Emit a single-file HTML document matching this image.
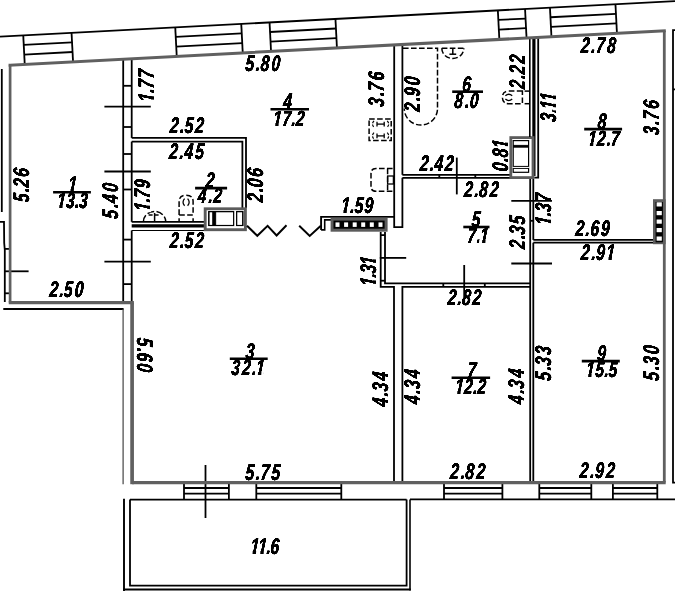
<!DOCTYPE html>
<html><head><meta charset="utf-8"><title>plan</title>
<style>
html,body{margin:0;padding:0;background:#fff;}
svg{display:block;filter:grayscale(1);}
text{font-family:"Liberation Sans",sans-serif;font-weight:bold;font-style:italic;fill:#000;}
</style></head><body>
<svg width="675" height="591" viewBox="0 0 675 591">
<defs><filter id="bold" x="0" y="0" width="675" height="591" filterUnits="userSpaceOnUse"><feGaussianBlur stdDeviation="0.55"/><feComponentTransfer><feFuncA type="linear" slope="3.2" intercept="-0.06"/></feComponentTransfer></filter></defs>
<rect x="0" y="0" width="675" height="591" fill="#fff"/>
<line x1="0.00" y1="36.60" x2="675.00" y2="1.09" stroke="#000" stroke-width="1.8"/>
<line x1="23.25" y1="35.34" x2="24.75" y2="64.44" stroke="#000" stroke-width="1.8"/>
<line x1="71.55" y1="32.80" x2="73.05" y2="61.90" stroke="#000" stroke-width="1.8"/>
<line x1="23.75" y1="44.94" x2="72.05" y2="42.40" stroke="#000" stroke-width="1.8"/>
<line x1="24.25" y1="54.54" x2="72.55" y2="52.00" stroke="#000" stroke-width="1.8"/>
<line x1="175.25" y1="27.34" x2="176.75" y2="56.44" stroke="#000" stroke-width="1.8"/>
<line x1="241.25" y1="23.87" x2="242.75" y2="52.97" stroke="#000" stroke-width="1.8"/>
<line x1="175.75" y1="36.94" x2="241.75" y2="33.47" stroke="#000" stroke-width="1.8"/>
<line x1="176.25" y1="46.54" x2="242.25" y2="43.07" stroke="#000" stroke-width="1.8"/>
<line x1="269.55" y1="22.38" x2="271.05" y2="51.48" stroke="#000" stroke-width="1.8"/>
<line x1="335.45" y1="18.92" x2="336.95" y2="48.02" stroke="#000" stroke-width="1.8"/>
<line x1="270.05" y1="31.98" x2="335.95" y2="28.52" stroke="#000" stroke-width="1.8"/>
<line x1="270.55" y1="41.58" x2="336.45" y2="38.12" stroke="#000" stroke-width="1.8"/>
<line x1="497.85" y1="10.37" x2="499.35" y2="39.47" stroke="#000" stroke-width="1.8"/>
<line x1="525.05" y1="8.94" x2="526.55" y2="38.04" stroke="#000" stroke-width="1.8"/>
<line x1="498.35" y1="19.97" x2="525.55" y2="18.54" stroke="#000" stroke-width="1.8"/>
<line x1="498.85" y1="29.57" x2="526.05" y2="28.14" stroke="#000" stroke-width="1.8"/>
<line x1="549.95" y1="7.63" x2="551.45" y2="36.73" stroke="#000" stroke-width="1.8"/>
<line x1="615.45" y1="4.19" x2="616.95" y2="33.29" stroke="#000" stroke-width="1.8"/>
<line x1="550.45" y1="17.23" x2="615.95" y2="13.79" stroke="#000" stroke-width="1.8"/>
<line x1="550.95" y1="26.83" x2="616.45" y2="23.39" stroke="#000" stroke-width="1.8"/>
<line x1="1.80" y1="69.00" x2="1.80" y2="212.00" stroke="#000" stroke-width="1.8"/>
<path d="M0.00 221.90 L4.00 221.90 L4.20 243.00 L4.80 250.00 L4.80 302.00" stroke="#000" stroke-width="1.8" fill="none"/>
<line x1="4.80" y1="248.90" x2="10.00" y2="248.90" stroke="#000" stroke-width="1.8"/>
<line x1="4.80" y1="293.30" x2="10.00" y2="293.30" stroke="#000" stroke-width="1.8"/>
<line x1="4.80" y1="271.30" x2="28.60" y2="271.30" stroke="#000" stroke-width="1.8"/>
<line x1="3.30" y1="309.00" x2="123.60" y2="309.00" stroke="#000" stroke-width="2.1"/>
<line x1="123.10" y1="309.00" x2="123.10" y2="484.30" stroke="#444" stroke-width="1.2"/>
<path d="M675.00 30.20 L673.00 30.20 L673.00 482.60 L675.00 482.60" stroke="#000" stroke-width="1.8" fill="none"/>
<line x1="673.00" y1="89.40" x2="675.00" y2="89.40" stroke="#000" stroke-width="1.8"/>
<line x1="130.00" y1="499.60" x2="406.60" y2="499.60" stroke="#000" stroke-width="1.8"/>
<line x1="410.00" y1="499.40" x2="675.00" y2="499.40" stroke="#000" stroke-width="1.8"/>
<line x1="184.00" y1="482.40" x2="184.00" y2="499.40" stroke="#000" stroke-width="1.8"/>
<line x1="228.90" y1="482.40" x2="228.90" y2="499.40" stroke="#000" stroke-width="1.8"/>
<line x1="184.00" y1="488.00" x2="228.90" y2="488.00" stroke="#000" stroke-width="1.8"/>
<line x1="184.00" y1="493.60" x2="228.90" y2="493.60" stroke="#000" stroke-width="1.8"/>
<line x1="256.30" y1="482.40" x2="256.30" y2="499.40" stroke="#000" stroke-width="1.8"/>
<line x1="341.30" y1="482.40" x2="341.30" y2="499.40" stroke="#000" stroke-width="1.8"/>
<line x1="256.30" y1="488.00" x2="341.30" y2="488.00" stroke="#000" stroke-width="1.8"/>
<line x1="256.30" y1="493.60" x2="341.30" y2="493.60" stroke="#000" stroke-width="1.8"/>
<line x1="444.00" y1="482.40" x2="444.00" y2="499.40" stroke="#000" stroke-width="1.8"/>
<line x1="502.40" y1="482.40" x2="502.40" y2="499.40" stroke="#000" stroke-width="1.8"/>
<line x1="444.00" y1="488.00" x2="502.40" y2="488.00" stroke="#000" stroke-width="1.8"/>
<line x1="444.00" y1="493.60" x2="502.40" y2="493.60" stroke="#000" stroke-width="1.8"/>
<line x1="539.30" y1="482.40" x2="539.30" y2="499.40" stroke="#000" stroke-width="1.8"/>
<line x1="591.30" y1="482.40" x2="591.30" y2="499.40" stroke="#000" stroke-width="1.8"/>
<line x1="539.30" y1="488.00" x2="591.30" y2="488.00" stroke="#000" stroke-width="1.8"/>
<line x1="539.30" y1="493.60" x2="591.30" y2="493.60" stroke="#000" stroke-width="1.8"/>
<line x1="612.90" y1="482.40" x2="612.90" y2="499.40" stroke="#000" stroke-width="1.8"/>
<line x1="657.30" y1="482.40" x2="657.30" y2="499.40" stroke="#000" stroke-width="1.8"/>
<line x1="612.90" y1="488.00" x2="657.30" y2="488.00" stroke="#000" stroke-width="1.8"/>
<line x1="612.90" y1="493.60" x2="657.30" y2="493.60" stroke="#000" stroke-width="1.8"/>
<line x1="205.50" y1="465.00" x2="205.50" y2="518.00" stroke="#000" stroke-width="1.8"/>
<line x1="124.00" y1="498.70" x2="124.00" y2="591.00" stroke="#000" stroke-width="1.9"/>
<line x1="123.00" y1="589.60" x2="410.80" y2="589.60" stroke="#000" stroke-width="2.0"/>
<line x1="410.00" y1="499.40" x2="410.00" y2="590.60" stroke="#000" stroke-width="1.6"/>
<path d="M130.00 499.60 L130.00 585.70 L406.60 585.70 L406.60 499.40" stroke="#000" stroke-width="1.8" fill="none"/>
<line x1="123.20" y1="59.22" x2="123.20" y2="301.00" stroke="#000" stroke-width="1.8"/>
<line x1="131.70" y1="58.77" x2="131.70" y2="137.90" stroke="#000" stroke-width="1.8"/>
<line x1="131.70" y1="141.60" x2="131.70" y2="221.80" stroke="#000" stroke-width="1.8"/>
<line x1="131.70" y1="230.50" x2="131.70" y2="301.00" stroke="#000" stroke-width="1.8"/>
<line x1="123.20" y1="85.80" x2="131.70" y2="85.80" stroke="#000" stroke-width="1.8"/>
<line x1="123.20" y1="127.00" x2="131.70" y2="127.00" stroke="#000" stroke-width="1.8"/>
<line x1="123.20" y1="154.00" x2="131.70" y2="154.00" stroke="#000" stroke-width="1.8"/>
<line x1="123.20" y1="189.50" x2="131.70" y2="189.50" stroke="#000" stroke-width="1.8"/>
<line x1="123.20" y1="239.60" x2="131.70" y2="239.60" stroke="#000" stroke-width="1.8"/>
<line x1="123.20" y1="284.10" x2="131.70" y2="284.10" stroke="#000" stroke-width="1.8"/>
<line x1="104.40" y1="106.70" x2="150.80" y2="106.70" stroke="#000" stroke-width="1.8"/>
<line x1="104.40" y1="171.50" x2="150.80" y2="171.50" stroke="#000" stroke-width="1.8"/>
<line x1="104.40" y1="261.70" x2="150.80" y2="261.70" stroke="#000" stroke-width="1.8"/>
<path d="M131.70 137.90 L246.00 137.90 L246.00 208.00" stroke="#000" stroke-width="1.8" fill="none"/>
<path d="M131.70 141.60 L242.40 141.60 L242.40 208.00" stroke="#000" stroke-width="1.8" fill="none"/>
<line x1="131.70" y1="221.80" x2="204.60" y2="221.80" stroke="#000" stroke-width="1.8"/>
<line x1="131.70" y1="225.90" x2="204.60" y2="225.90" stroke="#000" stroke-width="3.4"/>
<line x1="131.70" y1="230.50" x2="204.60" y2="230.50" stroke="#000" stroke-width="1.2"/>
<rect x="205.20" y="208.80" width="40.20" height="20.90" stroke="#5c5c5c" stroke-width="2.9" fill="none"/>
<rect x="208.80" y="211.60" width="34.00" height="13.90" stroke="#000" stroke-width="1.1" fill="none"/>
<rect x="212.40" y="211.60" width="3.50" height="13.90" stroke="#000" stroke-width="0.5" fill="#000"/>
<line x1="233.70" y1="211.60" x2="233.70" y2="225.50" stroke="#000" stroke-width="1.1"/>
<line x1="236.60" y1="211.60" x2="236.60" y2="225.50" stroke="#000" stroke-width="1.1"/>
<rect x="233.90" y="210.60" width="2.50" height="15.90" stroke="none" stroke-width="0" fill="#fff"/>
<rect x="208.80" y="211.60" width="24.90" height="13.90" stroke="#000" stroke-width="1.1" fill="none"/>
<rect x="236.60" y="211.60" width="6.20" height="13.90" stroke="#000" stroke-width="1.1" fill="none"/>
<path d="M247.00 225.70 L257.30 235.80 L267.60 225.90 L276.60 235.50 L286.50 225.30" stroke="#000" stroke-width="2.0" fill="none"/>
<path d="M299.20 225.80 L309.70 235.90 L320.80 225.80" stroke="#000" stroke-width="2.0" fill="none"/>
<path d="M321.10 229.90 L321.10 216.90 L394.20 216.90" stroke="#000" stroke-width="1.9" fill="none"/>
<path d="M321.10 229.90 L324.70 229.90 L324.70 219.90 L331.00 219.90" stroke="#000" stroke-width="1.6" fill="none"/>
<rect x="330.60" y="217.80" width="57.00" height="13.90" stroke="none" stroke-width="0" fill="#5c5c5c"/>
<rect x="333.50" y="220.60" width="51.10" height="8.10" stroke="none" stroke-width="0" fill="#000"/>
<rect x="335.50" y="222.40" width="4.00" height="4.50" stroke="none" stroke-width="0" fill="#fff"/>
<rect x="344.10" y="222.40" width="4.00" height="4.50" stroke="none" stroke-width="0" fill="#fff"/>
<rect x="352.70" y="222.40" width="4.00" height="4.50" stroke="none" stroke-width="0" fill="#fff"/>
<rect x="361.20" y="222.40" width="4.00" height="4.50" stroke="none" stroke-width="0" fill="#fff"/>
<rect x="369.80" y="222.40" width="4.00" height="4.50" stroke="none" stroke-width="0" fill="#fff"/>
<rect x="378.50" y="222.40" width="4.00" height="4.50" stroke="none" stroke-width="0" fill="#fff"/>
<path d="M394.20 44.97 L394.20 227.20 L402.40 227.20 L402.40 177.80" stroke="#000" stroke-width="1.8" fill="none"/>
<line x1="402.40" y1="174.80" x2="402.40" y2="44.53" stroke="#000" stroke-width="1.8"/>
<line x1="402.40" y1="174.80" x2="510.30" y2="174.80" stroke="#000" stroke-width="1.8"/>
<line x1="402.40" y1="177.80" x2="510.30" y2="177.80" stroke="#000" stroke-width="1.8"/>
<line x1="439.30" y1="174.80" x2="439.30" y2="177.80" stroke="#000" stroke-width="1.8"/>
<line x1="475.30" y1="174.80" x2="475.30" y2="177.80" stroke="#000" stroke-width="1.8"/>
<line x1="533.90" y1="37.62" x2="533.90" y2="176.00" stroke="#000" stroke-width="3.2"/>
<rect x="510.80" y="137.60" width="22.20" height="40.00" stroke="#5c5c5c" stroke-width="2.8" fill="none"/>
<rect x="513.20" y="140.60" width="15.40" height="31.70" stroke="#000" stroke-width="1.2" fill="none"/>
<rect x="513.20" y="145.10" width="15.40" height="2.40" stroke="#000" stroke-width="0.4" fill="#000"/>
<line x1="513.20" y1="166.50" x2="528.60" y2="166.50" stroke="#000" stroke-width="1.2"/>
<line x1="513.20" y1="168.30" x2="528.60" y2="168.30" stroke="#000" stroke-width="1.2"/>
<rect x="512.40" y="166.90" width="17.00" height="1.00" stroke="none" stroke-width="0" fill="#fff"/>
<line x1="529.80" y1="37.83" x2="529.80" y2="137.00" stroke="#000" stroke-width="1.6"/>
<path d="M538.20 37.39 L538.20 177.70 L534.40 177.70" stroke="#000" stroke-width="1.8" fill="none"/>
<line x1="530.20" y1="179.00" x2="530.20" y2="482.40" stroke="#000" stroke-width="1.8"/>
<line x1="530.20" y1="220.80" x2="533.30" y2="220.80" stroke="#000" stroke-width="1.8"/>
<line x1="533.30" y1="179.00" x2="533.30" y2="239.90" stroke="#000" stroke-width="1.8"/>
<line x1="533.30" y1="242.70" x2="533.30" y2="482.40" stroke="#000" stroke-width="1.8"/>
<line x1="533.30" y1="239.90" x2="653.00" y2="239.90" stroke="#000" stroke-width="1.8"/>
<line x1="533.30" y1="242.70" x2="653.00" y2="242.70" stroke="#000" stroke-width="1.8"/>
<line x1="511.30" y1="200.80" x2="552.00" y2="200.80" stroke="#000" stroke-width="1.8"/>
<line x1="511.30" y1="263.50" x2="552.00" y2="263.50" stroke="#000" stroke-width="1.8"/>
<rect x="653.00" y="199.20" width="12.60" height="45.00" stroke="none" stroke-width="0" fill="#5c5c5c"/>
<rect x="655.60" y="202.00" width="8.80" height="40.30" stroke="none" stroke-width="0" fill="#000"/>
<rect x="656.60" y="202.30" width="5.20" height="4.20" stroke="none" stroke-width="0" fill="#fff"/>
<rect x="656.60" y="211.00" width="5.20" height="4.20" stroke="none" stroke-width="0" fill="#fff"/>
<rect x="656.60" y="219.50" width="5.20" height="4.20" stroke="none" stroke-width="0" fill="#fff"/>
<rect x="656.60" y="228.00" width="5.20" height="4.20" stroke="none" stroke-width="0" fill="#fff"/>
<rect x="656.60" y="236.50" width="5.20" height="4.20" stroke="none" stroke-width="0" fill="#fff"/>
<path d="M380.70 232.00 L380.70 286.90 L394.00 286.90 L394.00 482.40" stroke="#000" stroke-width="1.8" fill="none"/>
<path d="M385.00 232.00 L385.00 283.30 L530.20 283.30" stroke="#000" stroke-width="1.8" fill="none"/>
<line x1="380.70" y1="235.10" x2="385.00" y2="235.10" stroke="#000" stroke-width="1.8"/>
<line x1="380.70" y1="280.70" x2="385.00" y2="280.70" stroke="#000" stroke-width="1.8"/>
<path d="M402.40 482.40 L402.40 286.90 L530.20 286.90" stroke="#000" stroke-width="1.8" fill="none"/>
<line x1="443.30" y1="283.30" x2="443.30" y2="286.90" stroke="#000" stroke-width="1.8"/>
<line x1="484.80" y1="283.30" x2="484.80" y2="286.90" stroke="#000" stroke-width="1.8"/>
<line x1="456.80" y1="157.60" x2="456.80" y2="194.40" stroke="#000" stroke-width="1.8"/>
<line x1="464.20" y1="265.00" x2="464.20" y2="305.00" stroke="#000" stroke-width="1.8"/>
<line x1="379.80" y1="257.90" x2="406.20" y2="257.90" stroke="#000" stroke-width="1.8"/>
<path d="M10.10 65.17 L664.30 30.76" stroke="#606060" stroke-width="3.0" fill="none" stroke-linecap="square"/>
<line x1="10.10" y1="65.17" x2="10.10" y2="302.60" stroke="#606060" stroke-width="2.7"/>
<line x1="664.30" y1="30.76" x2="664.30" y2="482.60" stroke="#606060" stroke-width="2.8"/>
<line x1="8.75" y1="302.60" x2="133.90" y2="302.60" stroke="#606060" stroke-width="3.3"/>
<line x1="132.10" y1="302.60" x2="132.10" y2="484.20" stroke="#606060" stroke-width="3.7"/>
<line x1="132.10" y1="482.60" x2="665.70" y2="482.60" stroke="#606060" stroke-width="3.1"/>
<path d="M179.1 214.9 V201.5 Q179.1 195.3 186.1 195.3 Q193.1 195.3 193.1 201.5 V214.9 Z" stroke="#000" stroke-width="1.5" fill="none" stroke-dasharray="5.6 2.4"/>
<line x1="179.10" y1="218.20" x2="179.10" y2="221.80" stroke="#000" stroke-width="1.5"/>
<line x1="193.10" y1="218.20" x2="193.10" y2="221.80" stroke="#000" stroke-width="1.5"/>
<path d="M184.6 198.6 Q181.4 202.2 184.6 205.8 M187.6 198.6 Q190.8 202.2 187.6 205.8" stroke="#000" stroke-width="1.3" fill="none"/>
<path d="M143.4 221.8 A11.2 10.4 0 0 1 165.8 221.8" stroke="#000" stroke-width="1.5" fill="none" stroke-dasharray="7 2.4"/>
<line x1="154.60" y1="213.00" x2="154.60" y2="221.80" stroke="#000" stroke-width="1.5"/>
<line x1="148.60" y1="214.90" x2="160.60" y2="214.90" stroke="#000" stroke-width="1.5" stroke-dasharray="4 2"/>
<rect x="369.10" y="119.10" width="22.10" height="21.40" stroke="#000" stroke-width="1.5" fill="none" stroke-dasharray="5.6 2.4"/>
<line x1="377.00" y1="124.10" x2="384.20" y2="124.10" stroke="#000" stroke-width="1.3"/>
<line x1="377.00" y1="121.70" x2="377.00" y2="126.50" stroke="#000" stroke-width="1.3"/>
<line x1="384.20" y1="121.70" x2="384.20" y2="126.50" stroke="#000" stroke-width="1.3"/>
<path d="M374 120.89999999999999 Q371 124.1 374 127.3 M387.2 120.89999999999999 Q390.2 124.1 387.2 127.3" stroke="#000" stroke-width="1.2" fill="none" stroke-dasharray="2.6 1.4"/>
<line x1="377.00" y1="135.90" x2="384.20" y2="135.90" stroke="#000" stroke-width="1.3"/>
<line x1="377.00" y1="133.50" x2="377.00" y2="138.30" stroke="#000" stroke-width="1.3"/>
<line x1="384.20" y1="133.50" x2="384.20" y2="138.30" stroke="#000" stroke-width="1.3"/>
<path d="M374 132.70000000000002 Q371 135.9 374 139.1 M387.2 132.70000000000002 Q390.2 135.9 387.2 139.1" stroke="#000" stroke-width="1.2" fill="none" stroke-dasharray="2.6 1.4"/>
<path d="M392.6 168.5 H376 Q371 168.5 371 173.5 V186.3 Q371 191.3 376 191.3 H392.6" stroke="#000" stroke-width="1.5" fill="none" stroke-dasharray="5.6 2.4"/>
<rect x="387.60" y="176.00" width="5.80" height="8.00" stroke="#000" stroke-width="1.3" fill="none"/>
<line x1="387.60" y1="168.60" x2="387.60" y2="191.40" stroke="#000" stroke-width="1.5" stroke-dasharray="5.6 2.4"/>
<path d="M403 48.3 H437.5 V108.6 A16.6 16.5 0 0 1 404.3 108.6" stroke="#000" stroke-width="1.5" fill="none" stroke-dasharray="5.6 2.4"/>
<path d="M441.8 48.3 A11 10.2 0 0 0 463.8 48.3" stroke="#000" stroke-width="1.5" fill="none" stroke-dasharray="5.6 2.4"/>
<line x1="452.80" y1="48.30" x2="452.80" y2="54.20" stroke="#000" stroke-width="1.5"/>
<line x1="449.40" y1="54.20" x2="456.20" y2="54.20" stroke="#000" stroke-width="1.5"/>
<line x1="441.80" y1="48.30" x2="463.80" y2="48.30" stroke="#000" stroke-width="1.5" stroke-dasharray="5.6 2.4"/>
<path d="M522.4 91.1 H508.6 Q502.4 91.1 502.4 97.4 Q502.4 103.7 508.6 103.7 H522.4 Z" stroke="#000" stroke-width="1.5" fill="none" stroke-dasharray="5.6 2.4"/>
<line x1="524.60" y1="91.10" x2="529.00" y2="91.10" stroke="#000" stroke-width="1.5"/>
<line x1="524.60" y1="103.70" x2="529.00" y2="103.70" stroke="#000" stroke-width="1.5"/>
<path d="M505.4 95.8 Q508.8 92.6 512.2 95.8 M505.4 99 Q508.8 102.2 512.2 99" stroke="#000" stroke-width="1.3" fill="none"/>
<g filter="url(#bold)">
<text transform="translate(245.7 71.4) skewX(-4) scale(0.7 1)" font-size="22.5" x="-1.00 14.06 20.63 36.12">5.80</text>
<text transform="translate(170.1 132.9) skewX(-4) scale(0.7 1)" font-size="22.5" x="-1.00 13.71 20.14 35.29">2.52</text>
<text transform="translate(169.5 159.4) skewX(-4) scale(0.7 1)" font-size="22.5" x="-1.00 14.10 20.69 36.22">2.45</text>
<text transform="translate(170.1 248.4) skewX(-4) scale(0.7 1)" font-size="22.5" x="-1.00 13.71 20.14 35.29">2.52</text>
<text transform="translate(49.6 297.0) skewX(-4) scale(0.7 1)" font-size="22.5" x="-1.00 13.63 20.02 35.08">2.50</text>
<text transform="translate(342.6 212.8) skewX(-4) scale(0.7 1)" font-size="22.5" x="-2.57 10.50 16.50 30.56">1.59</text>
<text transform="translate(420.1 170.6) skewX(-4) scale(0.7 1)" font-size="22.5" x="-1.00 13.58 19.96 34.97">2.42</text>
<text transform="translate(464.5 196.8) skewX(-4) scale(0.7 1)" font-size="22.5" x="-1.00 13.93 20.44 35.80">2.82</text>
<text transform="translate(448.0 304.5) skewX(-4) scale(0.7 1)" font-size="22.5" x="-1.00 13.28 19.54 34.25">2.82</text>
<text transform="translate(450.5 479.4) skewX(-4) scale(0.7 1)" font-size="22.5" x="-1.00 14.19 20.81 36.43">2.82</text>
<text transform="translate(581.1 53.1) skewX(-4) scale(0.7 1)" font-size="22.5" x="-1.00 14.23 20.87 36.53">2.78</text>
<text transform="translate(575.7 235.6) skewX(-4) scale(0.7 1)" font-size="22.5" x="-1.00 13.80 20.26 35.49">2.69</text>
<text transform="translate(581.1 260.2) skewX(-4) scale(0.7 1)" font-size="22.5" x="-1.00 14.39 21.09 35.34">2.91</text>
<text transform="translate(580.0 477.6) skewX(-4) scale(0.7 1)" font-size="22.5" x="-1.00 14.36 21.05 36.84">2.92</text>
<text transform="translate(245.7 480.1) skewX(-4) scale(0.7 1)" font-size="22.5" x="-1.00 14.06 20.63 36.12">5.75</text>
<text transform="translate(251.8 553.8) skewX(-4) scale(0.7 1)" font-size="22.5" x="-2.57 8.43 20.57 26.13">11.6</text>
<text transform="translate(154.3 100.5) rotate(-90) skewX(-4) scale(0.7 1)" font-size="22.5" x="-2.57 10.70 16.78 31.07">1.77</text>
<text transform="translate(29.0 201.7) rotate(-90) skewX(-4) scale(0.7 1)" font-size="22.5" x="-1.00 13.63 20.02 35.08">5.26</text>
<text transform="translate(117.6 218.2) rotate(-90) skewX(-4) scale(0.7 1)" font-size="22.5" x="-1.00 14.41 21.11 36.94">5.40</text>
<text transform="translate(150.0 209.8) rotate(-90) skewX(-4) scale(0.7 1)" font-size="22.5" x="-2.57 10.35 16.28 30.15">1.79</text>
<text transform="translate(262.6 201.7) rotate(-90) skewX(-4) scale(0.7 1)" font-size="22.5" x="-1.00 13.63 20.02 35.08">2.06</text>
<text transform="translate(384.4 106.2) rotate(-90) skewX(-4) scale(0.7 1)" font-size="22.5" x="-1.00 14.19 20.81 36.43">3.76</text>
<text transform="translate(420.0 111.3) rotate(-90) skewX(-4) scale(0.7 1)" font-size="22.5" x="-1.00 14.19 20.81 36.43">2.90</text>
<text transform="translate(524.6 88.5) rotate(-90) skewX(-4) scale(0.7 1)" font-size="22.5" x="-1.00 13.63 20.02 35.08">2.22</text>
<text transform="translate(556.0 121.5) rotate(-90) skewX(-4) scale(0.7 1)" font-size="22.5" x="-1.00 12.33 16.64 28.33">3.11</text>
<text transform="translate(659.0 134.9) rotate(-90) skewX(-4) scale(0.7 1)" font-size="22.5" x="-1.00 14.28 20.93 36.63">3.76</text>
<text transform="translate(508.1 171.0) rotate(-90) skewX(-4) scale(0.7 1)" font-size="22.5" x="-1.00 12.94 19.07 31.87">0.81</text>
<text transform="translate(550.5 223.8) rotate(-90) skewX(-4) scale(0.7 1)" font-size="22.5" x="-2.57 10.43 16.39 30.35">1.37</text>
<text transform="translate(525.3 248.6) rotate(-90) skewX(-4) scale(0.7 1)" font-size="22.5" x="-1.00 13.28 19.54 34.25">2.35</text>
<text transform="translate(375.6 284.7) rotate(-90) skewX(-4) scale(0.7 1)" font-size="22.5" x="-2.57 9.93 15.66 27.47">1.31</text>
<text transform="translate(387.7 406.4) rotate(-90) skewX(-4) scale(0.7 1)" font-size="22.5" x="-1.00 14.19 20.81 36.43">4.34</text>
<text transform="translate(420.0 403.9) rotate(-90) skewX(-4) scale(0.7 1)" font-size="22.5" x="-1.00 14.19 20.81 36.43">4.34</text>
<text transform="translate(524.2 403.9) rotate(-90) skewX(-4) scale(0.7 1)" font-size="22.5" x="-1.00 14.41 21.11 36.94">4.34</text>
<text transform="translate(550.8 380.2) rotate(-90) skewX(-4) scale(0.7 1)" font-size="22.5" x="-1.00 13.84 20.32 35.60">5.33</text>
<text transform="translate(659.0 380.2) rotate(-90) skewX(-4) scale(0.7 1)" font-size="22.5" x="-1.00 14.36 21.05 36.84">5.30</text>
<text transform="translate(137.0 338.0) rotate(90) skewX(-4) scale(0.7 1)" font-size="22.5" x="-1.00 13.76 20.20 35.39">5.60</text>
<text transform="translate(69.6 192.2) skewX(-4) scale(0.7 1)" font-size="22.5" x="-2.57">1</text>
<text transform="translate(58.5 208.0) skewX(-4) scale(0.7 1)" font-size="22" x="-2.57 10.32 23.22 28.93">13.3</text>
<text transform="translate(205.9 188.1) skewX(-4) scale(0.7 1)" font-size="22.5" x="-1.00">2</text>
<text transform="translate(198.2 203.3) skewX(-4) scale(0.7 1)" font-size="22" x="-1.00 14.52 21.27">4.2</text>
<text transform="translate(246.0 358.8) skewX(-4) scale(0.7 1)" font-size="22.5" x="-1.00">3</text>
<text transform="translate(231.8 375.1) skewX(-4) scale(0.7 1)" font-size="22" x="-1.00 14.14 28.86 33.71">32.1</text>
<text transform="translate(283.4 109.3) skewX(-4) scale(0.7 1)" font-size="22.5" x="-1.00">4</text>
<text transform="translate(274.5 126.0) skewX(-4) scale(0.7 1)" font-size="22" x="-2.57 10.66 23.97 29.84">17.2</text>
<text transform="translate(472.0 227.0) skewX(-4) scale(0.7 1)" font-size="22.5" x="-1.00">5</text>
<text transform="translate(467.7 243.2) skewX(-4) scale(0.7 1)" font-size="22" x="-1.00 12.52 16.90">7.1</text>
<text transform="translate(462.5 91.7) skewX(-4) scale(0.7 1)" font-size="22.5" x="-1.00">6</text>
<text transform="translate(454.7 107.7) skewX(-4) scale(0.7 1)" font-size="22" x="-1.00 14.52 21.27">8.0</text>
<text transform="translate(467.8 377.7) skewX(-4) scale(0.7 1)" font-size="22.5" x="-1.00">7</text>
<text transform="translate(456.5 393.9) skewX(-4) scale(0.7 1)" font-size="22" x="-2.57 10.47 23.55 29.34">12.2</text>
<text transform="translate(598.0 129.1) skewX(-4) scale(0.7 1)" font-size="22.5" x="-1.00">8</text>
<text transform="translate(589.2 145.7) skewX(-4) scale(0.7 1)" font-size="22" x="-2.57 10.93 24.56 30.56">12.7</text>
<text transform="translate(597.5 361.1) skewX(-4) scale(0.7 1)" font-size="22.5" x="-1.00">9</text>
<text transform="translate(587.4 377.2) skewX(-4) scale(0.7 1)" font-size="22" x="-2.57 10.70 24.06 29.95">15.5</text>
</g>
<path transform="translate(342.6 212.8) skewX(-4) scale(0.7 1)" d="M-3.37 -3.30 H1.03 V0.9 H-3.37 Z M5.93 -3.30 H9.63 V0.9 H5.93 Z" fill="#fff"/>
<path transform="translate(581.1 260.2) skewX(-4) scale(0.7 1)" d="M34.54 -3.30 H38.94 V0.9 H34.54 Z M43.84 -3.30 H47.54 V0.9 H43.84 Z" fill="#fff"/>
<path transform="translate(251.8 553.8) skewX(-4) scale(0.7 1)" d="M-3.37 -3.30 H1.03 V0.9 H-3.37 Z M5.93 -3.30 H9.63 V0.9 H5.93 Z" fill="#fff"/>
<path transform="translate(251.8 553.8) skewX(-4) scale(0.7 1)" d="M7.63 -3.30 H12.03 V0.9 H7.63 Z M16.93 -3.30 H20.63 V0.9 H16.93 Z" fill="#fff"/>
<path transform="translate(154.3 100.5) rotate(-90) skewX(-4) scale(0.7 1)" d="M-3.37 -3.30 H1.03 V0.9 H-3.37 Z M5.93 -3.30 H9.63 V0.9 H5.93 Z" fill="#fff"/>
<path transform="translate(150.0 209.8) rotate(-90) skewX(-4) scale(0.7 1)" d="M-3.37 -3.30 H1.03 V0.9 H-3.37 Z M5.93 -3.30 H9.63 V0.9 H5.93 Z" fill="#fff"/>
<path transform="translate(556.0 121.5) rotate(-90) skewX(-4) scale(0.7 1)" d="M15.84 -3.30 H20.24 V0.9 H15.84 Z M25.14 -3.30 H28.84 V0.9 H25.14 Z" fill="#fff"/>
<path transform="translate(556.0 121.5) rotate(-90) skewX(-4) scale(0.7 1)" d="M27.53 -3.30 H31.93 V0.9 H27.53 Z M36.83 -3.30 H40.53 V0.9 H36.83 Z" fill="#fff"/>
<path transform="translate(508.1 171.0) rotate(-90) skewX(-4) scale(0.7 1)" d="M31.07 -3.30 H35.47 V0.9 H31.07 Z M40.37 -3.30 H44.07 V0.9 H40.37 Z" fill="#fff"/>
<path transform="translate(550.5 223.8) rotate(-90) skewX(-4) scale(0.7 1)" d="M-3.37 -3.30 H1.03 V0.9 H-3.37 Z M5.93 -3.30 H9.63 V0.9 H5.93 Z" fill="#fff"/>
<path transform="translate(375.6 284.7) rotate(-90) skewX(-4) scale(0.7 1)" d="M-3.37 -3.30 H1.03 V0.9 H-3.37 Z M5.93 -3.30 H9.63 V0.9 H5.93 Z" fill="#fff"/>
<path transform="translate(375.6 284.7) rotate(-90) skewX(-4) scale(0.7 1)" d="M26.67 -3.30 H31.07 V0.9 H26.67 Z M35.97 -3.30 H39.67 V0.9 H35.97 Z" fill="#fff"/>
<path transform="translate(69.6 192.2) skewX(-4) scale(0.7 1)" d="M-3.37 -3.30 H1.03 V0.9 H-3.37 Z M5.93 -3.30 H9.63 V0.9 H5.93 Z" fill="#fff"/>
<path transform="translate(58.5 208.0) skewX(-4) scale(0.7 1)" d="M-3.35 -3.23 H0.95 V0.9 H-3.35 Z M5.74 -3.23 H9.36 V0.9 H5.74 Z" fill="#fff"/>
<path transform="translate(231.8 375.1) skewX(-4) scale(0.7 1)" d="M32.93 -3.23 H37.23 V0.9 H32.93 Z M42.03 -3.23 H45.64 V0.9 H42.03 Z" fill="#fff"/>
<path transform="translate(274.5 126.0) skewX(-4) scale(0.7 1)" d="M-3.35 -3.23 H0.95 V0.9 H-3.35 Z M5.74 -3.23 H9.36 V0.9 H5.74 Z" fill="#fff"/>
<path transform="translate(467.7 243.2) skewX(-4) scale(0.7 1)" d="M16.12 -3.23 H20.42 V0.9 H16.12 Z M25.21 -3.23 H28.83 V0.9 H25.21 Z" fill="#fff"/>
<path transform="translate(456.5 393.9) skewX(-4) scale(0.7 1)" d="M-3.35 -3.23 H0.95 V0.9 H-3.35 Z M5.74 -3.23 H9.36 V0.9 H5.74 Z" fill="#fff"/>
<path transform="translate(589.2 145.7) skewX(-4) scale(0.7 1)" d="M-3.35 -3.23 H0.95 V0.9 H-3.35 Z M5.74 -3.23 H9.36 V0.9 H5.74 Z" fill="#fff"/>
<path transform="translate(587.4 377.2) skewX(-4) scale(0.7 1)" d="M-3.35 -3.23 H0.95 V0.9 H-3.35 Z M5.74 -3.23 H9.36 V0.9 H5.74 Z" fill="#fff"/>
<line x1="53.10" y1="192.20" x2="90.90" y2="192.20" stroke="#000" stroke-width="2.6"/>
<line x1="195.10" y1="188.10" x2="227.10" y2="188.10" stroke="#000" stroke-width="2.6"/>
<line x1="229.80" y1="358.80" x2="267.70" y2="358.80" stroke="#000" stroke-width="2.6"/>
<line x1="270.50" y1="109.30" x2="309.00" y2="109.30" stroke="#000" stroke-width="2.6"/>
<line x1="463.30" y1="227.00" x2="489.50" y2="227.00" stroke="#000" stroke-width="2.6"/>
<line x1="452.20" y1="91.70" x2="483.00" y2="91.70" stroke="#000" stroke-width="2.6"/>
<line x1="451.60" y1="377.70" x2="490.10" y2="377.70" stroke="#000" stroke-width="2.6"/>
<line x1="584.20" y1="129.10" x2="622.10" y2="129.10" stroke="#000" stroke-width="2.6"/>
<line x1="581.80" y1="361.10" x2="619.80" y2="361.10" stroke="#000" stroke-width="2.6"/>
</svg>
</body></html>
